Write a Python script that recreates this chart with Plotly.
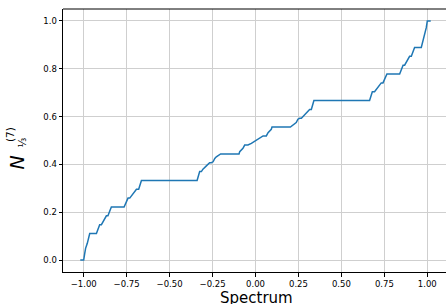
import plotly.graph_objects as go

# Counting function (left half, then right half)
spectrum_x = [
    -1.020, -1.000, -0.994, -0.989, -0.979, -0.972, -0.965, -0.926, -0.915, -0.907,
    -0.897, -0.880, -0.868, -0.859, -0.850, -0.839, -0.765, -0.752, -0.742, -0.732,
    -0.712, -0.693, -0.680, -0.664, -0.340, -0.325, -0.315, -0.306, -0.286, -0.267,
    -0.257, -0.247, -0.237, -0.228, -0.203, -0.096, -0.092, -0.073, -0.063, -0.044,
    -0.024, 0.000,
    0.024, 0.044, 0.063, 0.073, 0.092, 0.096, 0.203, 0.228, 0.237, 0.247,
    0.257, 0.267, 0.286, 0.306, 0.315, 0.325, 0.340, 0.664, 0.680, 0.693,
    0.712, 0.732, 0.742, 0.752, 0.765, 0.839, 0.850, 0.859, 0.868, 0.880,
    0.897, 0.907, 0.915, 0.926, 0.965, 0.972, 0.979, 0.989, 0.994, 1.000,
    1.020,
]
counting_n = [
    0.000, 0.000, 0.028, 0.049, 0.070, 0.092, 0.111, 0.111, 0.130, 0.148,
    0.148, 0.167, 0.185, 0.185, 0.204, 0.222, 0.222, 0.241, 0.259, 0.259,
    0.278, 0.296, 0.296, 0.333, 0.333, 0.370, 0.370, 0.380, 0.394, 0.407,
    0.407, 0.411, 0.425, 0.432, 0.444, 0.444, 0.453, 0.467, 0.481, 0.481,
    0.488, 0.500,
    0.512, 0.519, 0.519, 0.533, 0.547, 0.556, 0.556, 0.568, 0.575, 0.589,
    0.593, 0.593, 0.606, 0.620, 0.630, 0.630, 0.667, 0.667, 0.704, 0.704,
    0.722, 0.741, 0.741, 0.759, 0.778, 0.778, 0.796, 0.815, 0.815, 0.833,
    0.852, 0.852, 0.870, 0.889, 0.889, 0.908, 0.930, 0.951, 0.972, 1.000,
    1.000,
]

x_ticks = [-1.0, -0.75, -0.5, -0.25, 0.0, 0.25, 0.5, 0.75, 1.0]
x_tick_labels = ["\u22121.00", "\u22120.75", "\u22120.50", "\u22120.25", "0.00",
                 "0.25", "0.50", "0.75", "1.00"]
y_ticks = [0.0, 0.2, 0.4, 0.6, 0.8, 1.0]
y_tick_labels = ["0.0", "0.2", "0.4", "0.6", "0.8", "1.0"]

W, H = 446, 304
ML, MR, MT, MB = 63, 0, 9, 32
PW, PH = W - ML - MR, H - MT - MB

def px_x(p):
    return (p - ML) / PW

def px_y(p):
    return (H - MB - p) / PH

fig = go.Figure(go.Scatter(
    x=spectrum_x, y=counting_n, mode="lines",
    line=dict(color="#1f77b4", width=1.5),
    hoverinfo="skip",
))

font_family = "DejaVu Sans"
fig.update_layout(
    width=W, height=H,
    margin=dict(l=ML, r=MR, t=MT, b=MB, pad=0),
    plot_bgcolor="white", paper_bgcolor="white",
    showlegend=False,
    font=dict(family=font_family, size=8.5, color="black"),
)
axis_common = dict(
    showline=True, linecolor="black", linewidth=1, mirror=False,
    ticks="outside", ticklen=3.5, tickwidth=1, tickcolor="black",
    showgrid=True, gridcolor="#cfcfcf", gridwidth=1, zeroline=False,
    automargin=False,
    tickfont=dict(family=font_family, size=8.5, color="black"),
)
fig.update_xaxes(range=[-1.1205, 1.1088], tickvals=x_ticks, ticktext=x_tick_labels,
                 **axis_common)
fig.update_yaxes(range=[-0.05, 1.05], tickvals=y_ticks, ticktext=y_tick_labels,
                 **axis_common)

# top spine
fig.add_shape(type="line", xref="paper", yref="paper", x0=0, x1=1, y0=1, y1=1,
              line=dict(color="black", width=1))

# x-axis label
fig.add_annotation(text="Spectrum", xref="paper", yref="paper",
                   x=px_x(256), y=0, xanchor="center", yanchor="top", yshift=-15,
                   showarrow=False, font=dict(family=font_family, size=15, color="black"))

# y-axis label pieces: N, superscript (7), subscript 1/3
fig.add_annotation(text="<i>N</i>", xref="paper", yref="paper",
                   x=px_x(16.5), y=px_y(163), xanchor="center", yanchor="middle",
                   textangle=-90, showarrow=False,
                   font=dict(family=font_family, size=19, color="black"))
fig.add_annotation(text="(7)", xref="paper", yref="paper",
                   x=px_x(9.5), y=px_y(134.5), xanchor="center", yanchor="middle",
                   textangle=-90, showarrow=False,
                   font=dict(family=font_family, size=10.5, color="black"))
fig.add_annotation(text="\u2153", xref="paper", yref="paper",
                   x=px_x(21.5), y=px_y(143), xanchor="center", yanchor="middle",
                   textangle=-90, showarrow=False,
                   font=dict(family=font_family, size=10, color="black"))

fig.write_html("out.html",
               config={"displayModeBar": False},
               post_script="document.body.style.margin='0';document.body.style.overflow='hidden';")
